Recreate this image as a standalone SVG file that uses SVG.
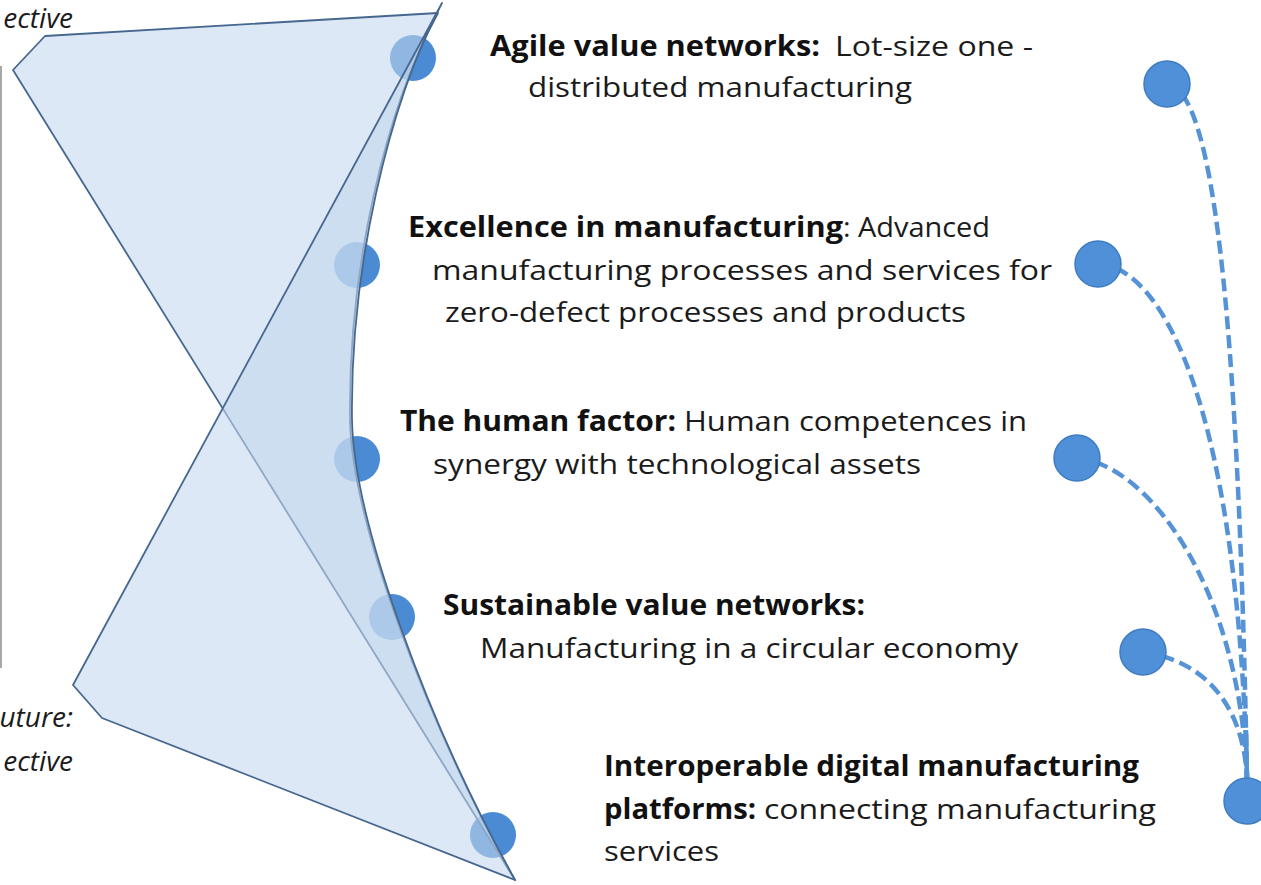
<svg xmlns="http://www.w3.org/2000/svg" width="1261" height="885" viewBox="0 0 1261 885">
  <style>
    .t { font-family: "Open Sans", "Liberation Sans", sans-serif; font-size: 28px; fill: #1b1b1b; }
    .b { font-weight: 700; fill: #111; }
    .i { font-style: italic; }
    .shape { fill: rgb(195,215,238); fill-opacity: 0.575; stroke: #46678f; stroke-width: 1.8; stroke-linejoin: round; }
    .lc { fill: #4a8bd3; stroke: none; }
    .rc { fill: #4f90d8; stroke: #3d7cc2; stroke-width: 1.5; }
    .dash { fill: none; stroke: #5593d6; stroke-width: 4.5; stroke-dasharray: 13 6; }
  </style>
  <rect width="1261" height="885" fill="#ffffff"/>

  <!-- cut-off frame edge and left labels -->
  <g id="left-labels">
    <line x1="1" y1="66" x2="1" y2="668" stroke="#a8a8a8" stroke-width="2"/>
    <text class="t i" x="73" y="28" text-anchor="end">ective</text>
    <text class="t i" x="73" y="727" text-anchor="end">uture:</text>
    <text class="t i" x="73" y="771" text-anchor="end">ective</text>
  </g>

  <!-- circles under the funnel shapes -->
  <g id="left-circles">
    <circle class="lc" cx="413" cy="58" r="23"/>
    <circle class="lc" cx="357" cy="265" r="23"/>
    <circle class="lc" cx="357" cy="459" r="23"/>
    <circle class="lc" cx="392" cy="617" r="23"/>
    <circle class="lc" cx="493" cy="835" r="23"/>
  </g>

  <g id="funnel-top">
    <path class="shape" d="M13,70 L45,36 L438,13 C385,110 348,270 350,420 C352,520 425,720 515,880 Z"/>
  </g>
  <g id="funnel-bottom">
    <path class="shape" d="M442,3 L73,685 L102,718 L515,880 C427,722 354,522 352,420 C350,270 388,105 442,3 Z"/>
  </g>

  <g id="node-agile">
    <text class="t b" x="490" y="56" textLength="330" lengthAdjust="spacingAndGlyphs">Agile value networks:</text>
    <text class="t" x="835" y="56" textLength="198" lengthAdjust="spacingAndGlyphs">Lot-size one -</text>
    <text class="t" x="528" y="97" textLength="384" lengthAdjust="spacingAndGlyphs">distributed manufacturing</text>
  </g>

  <g id="node-excellence">
    <text class="t b" x="408" y="237" textLength="435" lengthAdjust="spacingAndGlyphs">Excellence in manufacturing</text>
    <text class="t" x="843" y="237" textLength="147" lengthAdjust="spacingAndGlyphs">: Advanced</text>
    <text class="t" x="432" y="280" textLength="620" lengthAdjust="spacingAndGlyphs">manufacturing processes and services for</text>
    <text class="t" x="445" y="322" textLength="521" lengthAdjust="spacingAndGlyphs">zero-defect processes and products</text>
  </g>

  <g id="node-human">
    <text class="t b" x="400" y="431" textLength="276" lengthAdjust="spacingAndGlyphs">The human factor:</text>
    <text class="t" x="684" y="431" textLength="343" lengthAdjust="spacingAndGlyphs">Human competences in</text>
    <text class="t" x="433" y="474" textLength="488" lengthAdjust="spacingAndGlyphs">synergy with technological assets</text>
  </g>

  <g id="node-sustainable">
    <text class="t b" x="443" y="615" textLength="422" lengthAdjust="spacingAndGlyphs">Sustainable value networks:</text>
    <text class="t" x="480" y="658" textLength="538" lengthAdjust="spacingAndGlyphs">Manufacturing in a circular economy</text>
  </g>

  <g id="node-platforms">
    <text class="t b" x="604" y="776" textLength="535" lengthAdjust="spacingAndGlyphs">Interoperable digital manufacturing</text>
    <text class="t b" x="604" y="819" textLength="152" lengthAdjust="spacingAndGlyphs">platforms:</text>
    <text class="t" x="764" y="819" textLength="392" lengthAdjust="spacingAndGlyphs">connecting manufacturing</text>
    <text class="t" x="604" y="861" textLength="115" lengthAdjust="spacingAndGlyphs">services</text>
  </g>

  <g id="connectors">
    <path class="dash" d="M1167,84 C1212,88 1238,300 1247,778"/>
    <path class="dash" d="M1098,263 C1168,270 1238,420 1247,778"/>
    <path class="dash" d="M1077,458 C1150,465 1240,590 1247,778"/>
    <path class="dash" d="M1143,652 C1200,660 1243,700 1247,778"/>
    <line x1="1246" y1="730" x2="1247" y2="780" stroke="#5593d6" stroke-width="4.5"/>
  </g>

  <g id="right-circles">
    <circle class="rc" cx="1167" cy="84" r="23"/>
    <circle class="rc" cx="1098" cy="264" r="23"/>
    <circle class="rc" cx="1077" cy="458" r="23"/>
    <circle class="rc" cx="1143" cy="652" r="23"/>
    <circle class="rc" cx="1247" cy="801" r="23"/>
  </g>
</svg>
